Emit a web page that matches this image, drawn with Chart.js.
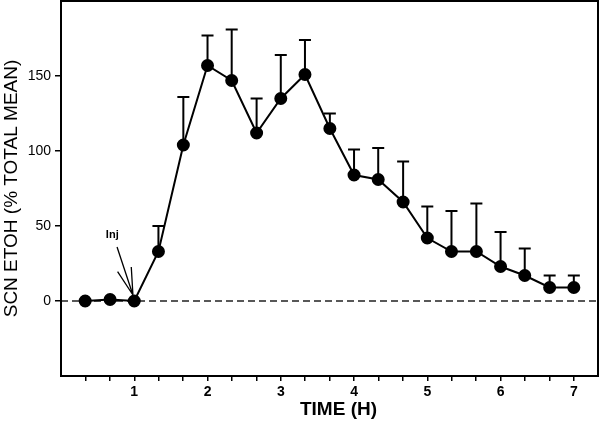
<!DOCTYPE html>
<html>
<head>
<meta charset="utf-8">
<script src="https://cdn.jsdelivr.net/npm/chart.js@4.4.1/dist/chart.umd.min.js"></script>
<style>
  html, body { margin: 0; padding: 0; background: #fff; }
  #wrap { width: 600px; height: 422px; }
</style>
</head>
<body>
<div id="wrap"><canvas id="chart"></canvas></div>
<script>
/* data */
const times  = [0.33, 0.67, 1, 1.33, 1.67, 2, 2.33, 2.67, 3, 3.33, 3.67, 4, 4.33, 4.67, 5, 5.33, 5.67, 6, 6.33, 6.67, 7];
const means  = [0, 1, 0, 33, 104, 157, 147, 112, 135, 151, 115, 84, 81, 66, 42, 33, 33, 23, 17, 9, 9];
const errTop = [null, null, null, 50, 136, 177, 181, 135, 164, 174, 125, 101, 102, 93, 63, 60, 65, 46, 35, 17, 17];

const xTickVals   = [0.333, 0.667, 1, 1.333, 1.667, 2, 2.333, 2.667, 3, 3.333, 3.667, 4, 4.333, 4.667, 5, 5.333, 5.667, 6, 6.333, 6.667, 7];
const xTickLabels = ['1', '2', '3', '4', '5', '6', '7'];
const yTickVals   = [0, 50, 100, 150];
const xTitle = 'TIME (H)';

const injNote = {label: 'Inj', textAt: [0.70, 44], from: [0.765, 36], to: [0.982, 4]};

const FONT = "'Liberation Sans', Arial, sans-serif";

/* frame, zero line, error bars, arrow, x title */
const extras = {
    id: 'extras',
    beforeDatasetsDraw(chart) {
        const {ctx, chartArea: a, scales: {x, y}} = chart;
        ctx.save();
        // dashed zero line
        const y0 = y.getPixelForValue(0);
        ctx.strokeStyle = '#222';
        ctx.lineWidth = 1.4;
        ctx.setLineDash([7, 4]);
        ctx.beginPath();
        ctx.moveTo(a.left, y0); ctx.lineTo(a.right, y0);
        ctx.stroke();
        ctx.setLineDash([]);
        // error bars (upper only)
        ctx.strokeStyle = '#000';
        ctx.lineWidth = 2;
        times.forEach((t, i) => {
            if (errTop[i] == null) return;
            const px = x.getPixelForValue(t);
            const pm = y.getPixelForValue(means[i]);
            const pe = y.getPixelForValue(errTop[i]);
            ctx.beginPath();
            ctx.moveTo(px, pm); ctx.lineTo(px, pe);
            ctx.moveTo(px - 6, pe); ctx.lineTo(px + 6, pe);
            ctx.stroke();
        });
        ctx.restore();
    },
    afterDraw(chart) {
        const {ctx, chartArea: a, scales: {x, y}} = chart;
        ctx.save();
        // box
        ctx.strokeStyle = '#000';
        ctx.lineWidth = 2;
        ctx.strokeRect(a.left, a.top, a.right - a.left, a.bottom - a.top);
        // injection arrow
        const sx = x.getPixelForValue(injNote.from[0]), sy = y.getPixelForValue(injNote.from[1]);
        const tx = x.getPixelForValue(injNote.to[0]),   ty = y.getPixelForValue(injNote.to[1]);
        const ang = Math.atan2(sy - ty, sx - tx);
        ctx.lineWidth = 1.3;
        ctx.beginPath();
        ctx.moveTo(sx, sy); ctx.lineTo(tx, ty);
        [-0.26, 0.26].forEach(d => {
            ctx.moveTo(tx, ty);
            ctx.lineTo(tx + 28 * Math.cos(ang + d), ty + 28 * Math.sin(ang + d));
        });
        ctx.stroke();
        ctx.fillStyle = '#000';
        ctx.font = 'bold 11px ' + FONT;
        ctx.textAlign = 'center';
        ctx.textBaseline = 'middle';
        ctx.fillText(injNote.label, x.getPixelForValue(injNote.textAt[0]), y.getPixelForValue(injNote.textAt[1]));
        // x axis title, sits a little right of centre in the original
        ctx.font = 'bold 19px ' + FONT;
        ctx.fillText(xTitle, (a.left + a.right) / 2 + 9, chart.height - 12);
        ctx.restore();
    }
};

new Chart(document.getElementById('chart'), {
    type: 'line',
    data: {
        datasets: [{
            data: times.map((t, i) => ({x: t, y: means[i]})),
            borderColor: '#000', backgroundColor: '#000',
            borderWidth: 2, tension: 0,
            pointRadius: 5.5, pointBackgroundColor: '#000', pointBorderColor: '#000'
        }]
    },
    options: {
        responsive: true, maintainAspectRatio: false, animation: false,
        layout: {autoPadding: false, padding: {top: 1, right: 2, left: 0, bottom: 0}},
        plugins: {legend: {display: false}, tooltip: {enabled: false}},
        scales: {
            x: {
                type: 'linear', min: 0, max: 7.33,
                afterBuildTicks: s => { s.ticks = xTickVals.map(v => ({value: v})); },
                afterFit: s => { s.height = 46; s.paddingLeft = 0; s.paddingRight = 0; },
                grid: {display: true, drawOnChartArea: false, drawTicks: true, tickLength: 5, color: '#000', lineWidth: 1.5},
                border: {display: true, color: '#000', width: 2},
                ticks: {
                    color: '#000', padding: 3, maxRotation: 0, autoSkip: false,
                    font: {family: FONT, size: 14, weight: 'bold'},
                    callback: v => {
                        const r = Math.round(v);
                        return Math.abs(v - r) < 0.01 ? xTickLabels[r - 1] : '';
                    }
                },
                title: {display: false}
            },
            y: {
                min: -50, max: 200,
                afterBuildTicks: s => { s.ticks = yTickVals.map(v => ({value: v})); },
                afterFit: s => { s.width = 61; s.paddingTop = 0; s.paddingBottom = 0; },
                grid: {display: true, drawOnChartArea: false, drawTicks: true, tickLength: 6, color: '#000', lineWidth: 1.5},
                border: {display: true, color: '#000', width: 2},
                ticks: {color: '#000', padding: 4, font: {family: FONT, size: 14}},
                title: {display: true, text: 'SCN ETOH (% TOTAL MEAN)', color: '#000', padding: {top: 0, bottom: 0},
                        font: {family: FONT, size: 19}}
            }
        }
    },
    plugins: [extras]
});
</script>
</body>
</html>
